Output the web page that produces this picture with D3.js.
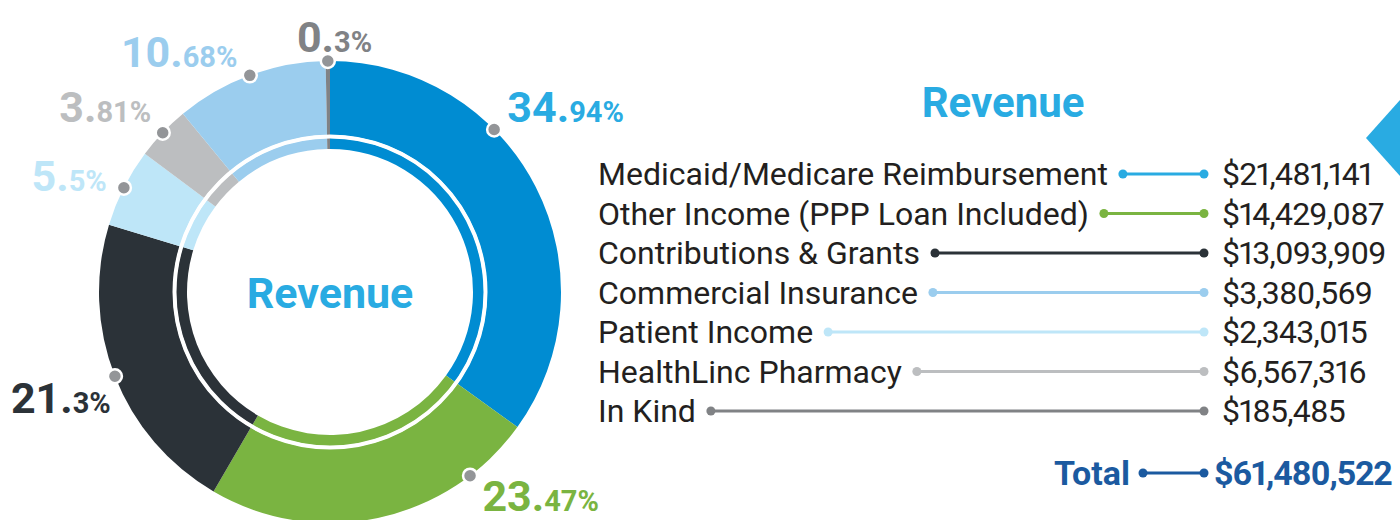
<!DOCTYPE html>
<html>
<head>
<meta charset="utf-8">
<script src="https://cdn.jsdelivr.net/npm/d3@7"></script>
<style>
  html, body { margin: 0; padding: 0; background: #fff; }
  svg { display: block; font-family: Roboto, "Noto Sans", sans-serif; }
  .num { font-variant-numeric: proportional-nums; font-feature-settings: "pnum" 1; }
</style>
</head>
<body>
<svg id="chart" width="1400" height="520"></svg>
<script>
const W = 1400, H = 520;

// данные
const categories = [
  'Medicaid/Medicare Reimbursement',
  'Other Income (PPP Loan Included)',
  'Contributions & Grants',
  'Commercial Insurance',
  'Patient Income',
  'HealthLinc Pharmacy',
  'In Kind'
];
const amounts  = [21481141, 14429087, 13093909, 3380569, 2343015, 6567316, 185485];
const percents = ['34.94', '23.47', '21.3', '5.5', '3.81', '10.68', '0.3'];

// цвета
const sliceColors  = ['#008cd2', '#7ab441', '#2b3238', '#bee6f8', '#bcbec0', '#9bcdee', '#808285'];
const labelColors  = ['#29abe2', '#7ab441', '#2b3238', '#bee6f8', '#bcbec0', '#9bcdee', '#808285'];
const legendColors = ['#29abe2', '#7ab441', '#2b3238', '#9bcdee', '#bee6f8', '#bcbec0', '#808285'];
const TOTAL_COLOR = '#1b5aa0';

// где на дуге стоит маркер (доля сегмента) и сдвиг подписи
const labelAt    = [0.36, 0.2, 0.5, 0.5, 0.5, 0.5, 0.5];
const labelNudge = [[-6, 12], [-4, 14], [21, 27], [7, 15], [8, 8], [-3, 17], [7, 18]];

const svg = d3.select('#chart');
svg.append('rect').attr('width', W).attr('height', H).attr('fill', '#fff');

// ---- donut ----
const cx = 330, cy = 292, R = 231;
const g = svg.append('g').attr('transform', `translate(${cx},${cy})`);

const pie = d3.pie().sort(null).value(d => d)(amounts);
const arcOuter = d3.arc().innerRadius(157).outerRadius(R);
const arcInner = d3.arc().innerRadius(143).outerRadius(154);

g.selectAll('path.outer')
  .data(pie).join('path')
  .attr('class', 'outer')
  .attr('d', arcOuter)
  .attr('fill', (d, i) => sliceColors[i]);

g.selectAll('path.inner')
  .data(pie).join('path')
  .attr('class', 'inner')
  .attr('d', arcInner)
  .attr('fill', (d, i) => sliceColors[i]);

g.append('circle').attr('r', 155.5).attr('fill', 'none')
  .attr('stroke', '#fff').attr('stroke-width', 4);

g.append('text')
  .attr('x', 0).attr('y', 16)
  .attr('text-anchor', 'middle')
  .attr('font-size', 43).attr('font-weight', 700)
  .attr('fill', '#29abe2')
  .text('Revenue');

// маркеры и проценты
const pos = (a, r) => [r * Math.sin(a), -r * Math.cos(a)];

pie.forEach((d, i) => {
  const a = d.startAngle + labelAt[i] * (d.endAngle - d.startAngle);
  const [dx, dy] = pos(a, R);
  g.append('circle')
    .attr('cx', dx).attr('cy', dy).attr('r', 7)
    .attr('fill', '#939598').attr('stroke', '#fff').attr('stroke-width', 2.5);

  const [lx, ly] = pos(a, 258);
  const side = Math.abs(lx) < 20 ? 'middle' : (lx < 0 ? 'end' : 'start');
  const parts = percents[i].split('.');
  const t = g.append('text')
    .attr('x', lx + labelNudge[i][0]).attr('y', ly + labelNudge[i][1])
    .attr('text-anchor', side)
    .attr('fill', labelColors[i]);
  t.append('tspan').attr('font-size', 43).attr('font-weight', 700).text(parts[0] + '.');
  t.append('tspan').attr('font-size', 29).attr('font-weight', 700).text(parts[1] + '%');
});

// ---- legend ----
svg.append('text')
  .attr('x', 1003).attr('y', 117)
  .attr('text-anchor', 'middle')
  .attr('font-size', 42).attr('font-weight', 700)
  .attr('fill', '#29abe2')
  .text('Revenue');

const y = d3.scalePoint().domain(categories).range([174, 411]);
const xText = 598, xDot = 1204, xVal = 1222;
const fmt = d3.format('$,');

const rows = svg.append('g').selectAll('g.row')
  .data(categories).join('g')
  .attr('class', 'row')
  .attr('transform', d => `translate(0,${y(d)})`);

rows.each(function(d, i) {
  const row = d3.select(this);
  const lbl = row.append('text')
    .attr('x', xText).attr('y', 11)
    .attr('font-size', 32).attr('fill', '#231f20')
    .text(d);
  const x0 = xText + lbl.node().getComputedTextLength() + 15;
  row.append('line')
    .attr('x1', x0).attr('x2', xDot).attr('y1', 0).attr('y2', 0)
    .attr('stroke', legendColors[i]).attr('stroke-width', 3);
  row.selectAll('circle').data([x0, xDot]).join('circle')
    .attr('cx', v => v).attr('cy', 0).attr('r', 4.5)
    .attr('fill', legendColors[i]);
  row.append('text')
    .attr('class', 'num')
    .attr('x', xVal).attr('y', 11)
    .attr('font-size', 32).attr('fill', '#231f20')
    .attr('letter-spacing', -0.8)
    .text(fmt(amounts[i]));
});

// итог
const totalY = 473;
const tg = svg.append('g').attr('transform', `translate(0,${totalY})`);
tg.append('text')
  .attr('x', 1130).attr('y', 12)
  .attr('text-anchor', 'end')
  .attr('font-size', 34).attr('font-weight', 700)
  .attr('fill', TOTAL_COLOR)
  .text('Total');
tg.append('line')
  .attr('x1', 1143).attr('x2', xDot).attr('y1', 0).attr('y2', 0)
  .attr('stroke', TOTAL_COLOR).attr('stroke-width', 3);
tg.selectAll('circle').data([1143, xDot]).join('circle')
  .attr('cx', v => v).attr('cy', 0).attr('r', 4.5)
  .attr('fill', TOTAL_COLOR);
tg.append('text')
  .attr('class', 'num')
  .attr('x', 1214).attr('y', 12)
  .attr('font-size', 34).attr('font-weight', 700)
  .attr('letter-spacing', -1.2)
  .attr('fill', TOTAL_COLOR)
  .text(fmt(d3.sum(amounts)));

// декоративный ромб справа
svg.append('path')
  .attr('d', 'M1400,100 L1366,138 L1400,176 Z')
  .attr('fill', '#29abe2');
</script>
</body>
</html>
